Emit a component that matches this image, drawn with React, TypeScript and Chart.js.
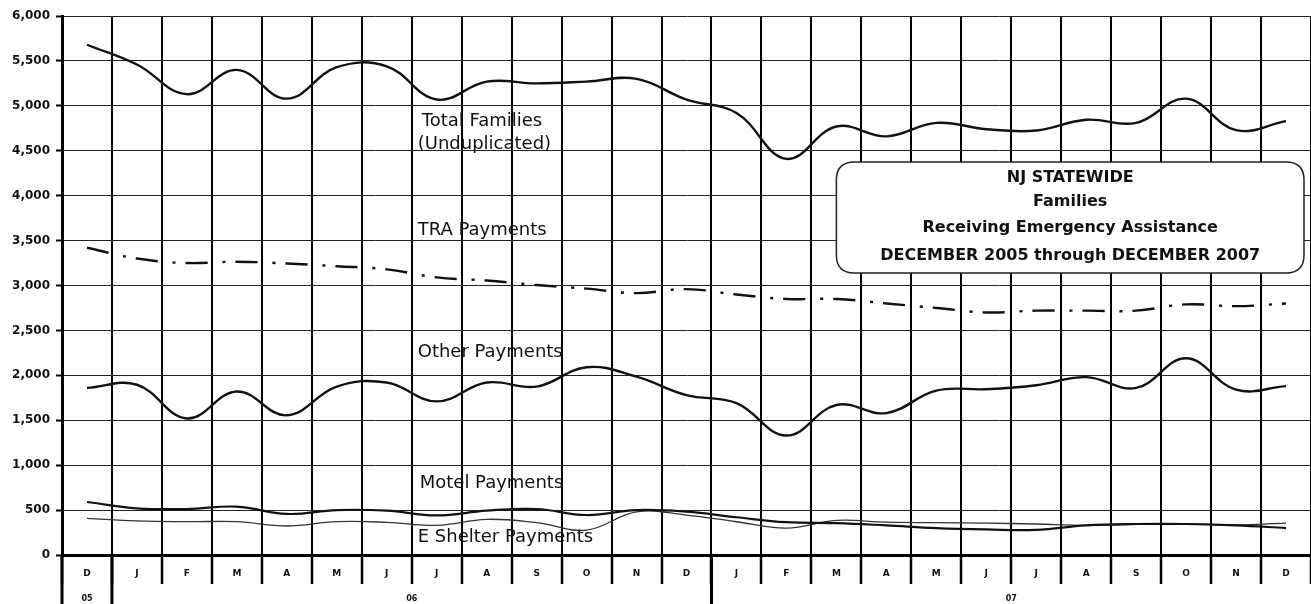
import React, { useEffect, useRef } from 'react';
import { Chart, registerables } from 'chart.js';

Chart.register(...registerables);

// ---------------- data ----------------
const months = ['D', 'J', 'F', 'M', 'A', 'M', 'J', 'J', 'A', 'S', 'O', 'N', 'D', 'J', 'F', 'M', 'A', 'M', 'J', 'J', 'A', 'S', 'O', 'N', 'D'];
const yearLabels = ['05', '06', '07'];
const yearFirstIndex = [0, 1, 13];
const yearLastIndex = [0, 12, 24];

const totalFamilies = [5680, 5460, 5130, 5400, 5080, 5430, 5440, 5070, 5270, 5250, 5270, 5300, 5070, 4920, 4410, 4770, 4660, 4810, 4740, 4725, 4845, 4810, 5080, 4730, 4830];
const traPayments = [3420, 3300, 3250, 3265, 3245, 3215, 3180, 3090, 3055, 3005, 2965, 2915, 2960, 2900, 2850, 2850, 2800, 2750, 2700, 2720, 2720, 2720, 2790, 2770, 2800];
const otherPayments = [1860, 1895, 1520, 1820, 1555, 1875, 1920, 1710, 1920, 1875, 2090, 1985, 1780, 1690, 1330, 1670, 1580, 1830, 1845, 1890, 1980, 1860, 2190, 1840, 1880];
const motelPayments = [590, 520, 512, 538, 457, 500, 494, 440, 494, 512, 445, 500, 482, 420, 365, 355, 330, 300, 285, 280, 330, 345, 345, 330, 300];
const shelterPayments = [408, 379, 371, 371, 323, 371, 364, 330, 397, 360, 278, 480, 445, 370, 300, 385, 365, 360, 355, 345, 330, 340, 345, 335, 355];

const yMin = 0;
const yMax = 6000;
const yStep = 500;

const titleLines = ['NJ STATEWIDE', 'Families', 'Receiving Emergency Assistance', 'DECEMBER 2005 through DECEMBER 2007'];

// series captions placed in data space (category index, value)
const captions = [
  { text: 'Total Families', index: 6.7, value: 4830 },
  { text: '(Unduplicated)', index: 6.62, value: 4566 },
  { text: 'TRA Payments', index: 6.62, value: 3610 },
  { text: 'Other Payments', index: 6.62, value: 2260 },
  { text: 'Motel Payments', index: 6.66, value: 800 },
  { text: 'E Shelter Payments', index: 6.62, value: 200 },
];

// title box in data space
const titleBox = { fromIndex: 15.0, toIndex: 24.36, topValue: 4375, bottomValue: 3140 };
const titleLineFractions = [0.145, 0.36, 0.595, 0.85];

const ink = '#111111';

const overlayPlugin = {
  id: 'overlayPlugin',
  afterDraw(chart: any) {
    const { ctx, scales } = chart;
    const x = scales.x;
    const y = scales.y;
    const area = chart.chartArea;
    const H = chart.height;
    ctx.save();

    // year separators + y-axis extension below axis
    ctx.strokeStyle = '#000';
    ctx.lineWidth = 3;
    const seps = [area.left, (x.getPixelForValue(0) + x.getPixelForValue(1)) / 2, (x.getPixelForValue(12) + x.getPixelForValue(13)) / 2];
    seps.forEach((sx) => {
      ctx.beginPath();
      ctx.moveTo(sx, area.bottom);
      ctx.lineTo(sx, H);
      ctx.stroke();
    });

    // year labels
    ctx.fillStyle = ink;
    ctx.font = 'bold 8px "DejaVu Sans"';
    ctx.textAlign = 'center';
    ctx.textBaseline = 'middle';
    yearLabels.forEach((lab, i) => {
      const cx = (x.getPixelForValue(yearFirstIndex[i]) + x.getPixelForValue(yearLastIndex[i])) / 2;
      ctx.fillText(lab, cx, area.bottom + 44);
    });

    // captions
    ctx.font = '18px "DejaVu Sans"';
    ctx.textAlign = 'left';
    ctx.textBaseline = 'middle';
    captions.forEach((c) => {
      ctx.fillText(c.text, x.getPixelForValue(c.index), y.getPixelForValue(c.value));
    });

    // title box
    const l = x.getPixelForValue(titleBox.fromIndex);
    const r = x.getPixelForValue(titleBox.toIndex);
    const t = y.getPixelForValue(titleBox.topValue);
    const b = y.getPixelForValue(titleBox.bottomValue);
    const rad = 18;
    ctx.beginPath();
    ctx.moveTo(l + rad, t);
    ctx.lineTo(r - rad, t);
    ctx.quadraticCurveTo(r, t, r, t + rad);
    ctx.lineTo(r, b - rad);
    ctx.quadraticCurveTo(r, b, r - rad, b);
    ctx.lineTo(l + rad, b);
    ctx.quadraticCurveTo(l, b, l, b - rad);
    ctx.lineTo(l, t + rad);
    ctx.quadraticCurveTo(l, t, l + rad, t);
    ctx.closePath();
    ctx.fillStyle = '#ffffff';
    ctx.fill();
    ctx.strokeStyle = '#222';
    ctx.lineWidth = 1.5;
    ctx.stroke();

    ctx.fillStyle = ink;
    ctx.font = 'bold 16px "DejaVu Sans"';
    ctx.textAlign = 'center';
    ctx.textBaseline = 'middle';
    const cx = (l + r) / 2;
    titleLines.forEach((line, i) => {
      ctx.fillText(line, cx, t + (b - t) * titleLineFractions[i]);
    });

    ctx.restore();
  },
};

export default function App() {
  const canvasRef = useRef<HTMLCanvasElement | null>(null);

  useEffect(() => {
    document.body.style.margin = '0';
    const canvas = canvasRef.current;
    if (!canvas) return;
    Chart.defaults.font.family = '"DejaVu Sans"';

    const common = { pointRadius: 0, pointHoverRadius: 0, tension: 0.4, fill: false, borderColor: ink };
    const chart = new Chart(canvas, {
      type: 'line',
      data: {
        labels: months,
        datasets: [
          { ...common, label: 'Total Families (Unduplicated)', data: totalFamilies, borderWidth: 2.4 },
          { ...common, label: 'TRA Payments', data: traPayments, borderWidth: 2.4, borderDash: [22, 15, 3, 10] },
          { ...common, label: 'Other Payments', data: otherPayments, borderWidth: 2.4 },
          { ...common, label: 'Motel Payments', data: motelPayments, borderWidth: 2.2 },
          { ...common, label: 'E Shelter Payments', data: shelterPayments, borderWidth: 1.3, borderColor: '#333' },
        ],
      },
      options: {
        animation: false,
        responsive: true,
        maintainAspectRatio: false,
        layout: { padding: { top: 16, right: 0, left: 0, bottom: 0 } },
        plugins: { legend: { display: false }, tooltip: { enabled: false } },
        scales: {
          x: {
            type: 'category',
            offset: true,
            grid: {
              offset: true,
              color: '#000',
              lineWidth: 2,
              drawTicks: true,
              tickLength: 29,
              tickWidth: 2.5,
              tickColor: '#000',
            },
            border: { display: true, color: '#000', width: 3 },
            ticks: {
              autoSkip: false,
              maxRotation: 0,
              minRotation: 0,
              padding: -16,
              color: ink,
              font: { size: 9, weight: 'bold', family: '"DejaVu Sans"' },
            },
            afterFit: (scale: any) => {
              scale.height = 49;
            },
          },
          y: {
            min: yMin,
            max: yMax,
            grid: {
              color: '#222',
              lineWidth: 1,
              drawTicks: true,
              tickLength: 6,
              tickWidth: 2,
              tickColor: '#000',
            },
            border: { display: true, color: '#000', width: 3 },
            ticks: {
              stepSize: yStep,
              padding: 6,
              color: ink,
              font: { size: 12, weight: 'bold', family: '"DejaVu Sans"' },
              callback: (v: any) => Number(v).toLocaleString('en-US'),
            },
            afterFit: (scale: any) => {
              scale.width = 62;
            },
          },
        },
      },
      plugins: [overlayPlugin],
    });
    return () => chart.destroy();
  }, []);

  return (
    <div style={{ width: '1311px', height: '604px', position: 'relative', background: '#fff' }}>
      <canvas ref={canvasRef} />
    </div>
  );
}
